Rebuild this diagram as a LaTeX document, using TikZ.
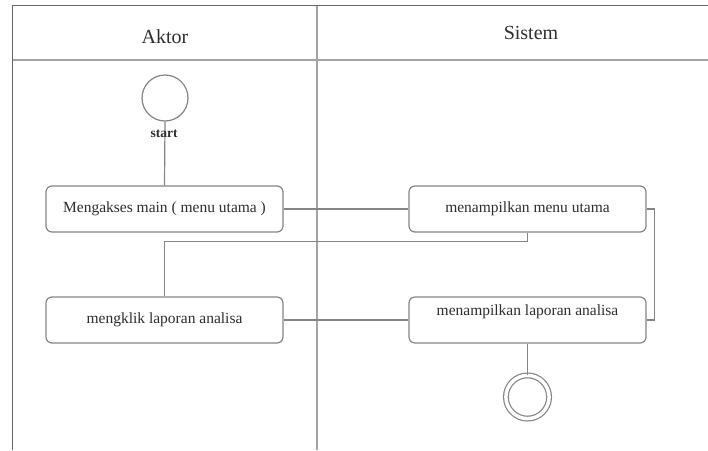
\documentclass[tikz,border=0pt]{standalone}
\usepackage{fontspec}
\setmainfont{Liberation Serif}
\usepackage{tikz}
\usepackage{xcolor}
\definecolor{frame-dark}{HTML}{666666}
\definecolor{lane-gray}{HTML}{A3A3A3}
\definecolor{box-gray}{HTML}{858585}
\definecolor{text-gray}{HTML}{2E2E2E}
\tikzset{
    lane-line/.style = {draw=lane-gray, line width=1.4pt},
    frame-line/.style = {draw=frame-dark, line width=1pt},
    lane-title/.style = {text=text-gray, font=\fontsize{20}{24}\selectfont},
    activity-box/.style = {draw=box-gray, fill=white, line width=1.2pt, rectangle, rounded corners=6pt, minimum width=237pt, minimum height=46pt, inner sep=0pt, text=text-gray, font=\fontsize{15.5}{18}\selectfont},
    start-node/.style = {draw=box-gray, fill=white, line width=1.2pt, circle, minimum size=46pt, inner sep=0pt},
    end-node/.style = {draw=box-gray, fill=white, line width=1.2pt, circle, minimum size=43.2pt, inner sep=0pt, double=white, double distance=3.5pt},
    flow-line/.style = {draw=box-gray, line width=1.2pt},
}

\begin{document}
\begin{tikzpicture}[x=1pt, y=-1pt]
\useasboundingbox (0,0) rectangle (708,450);
% swimlanes
\draw[lane-line] (12,60) -- (708,60);
\draw[lane-line] (317,5.5) -- (317,450);
\draw[frame-line] (12,450) -- (12,5.5) -- (708,5.5);
\node[lane-title] (aktor) at (165,37) {Aktor};
\node[lane-title] (sistem) at (531,33) {Sistem};
% activities
\node[start-node] (start) at (165,98) {};
\node[activity-box] (akses) at (164.5,209) {Mengakses main ( menu utama )};
\node[activity-box] (klik) at (164.5,320) {mengklik laporan analisa};
\node[activity-box] (menu) at (527.5,209) {menampilkan menu utama};
\node[activity-box, text depth=20pt] (laporan) at (527.5,320) {menampilkan laporan analisa};
\node[end-node] (end) at (527.5,397) {};
% flows
\draw[flow-line] (start.south) -- (akses.north);
\draw[flow-line] (akses.east) -- (menu.west);
\draw[flow-line] (menu.south) -- ++(0,9) -| (klik.north);
\draw[flow-line] (klik.east) -- (laporan.west);
\draw[flow-line] (menu.east) -- ++(8,0) |- (laporan.east);
\draw[flow-line] (laporan.south) -- (end.north);
\node[text=text-gray, font=\fontsize{13.5}{16}\selectfont\bfseries] (start-label) at (164,134) {start};
\end{tikzpicture}
\end{document}
